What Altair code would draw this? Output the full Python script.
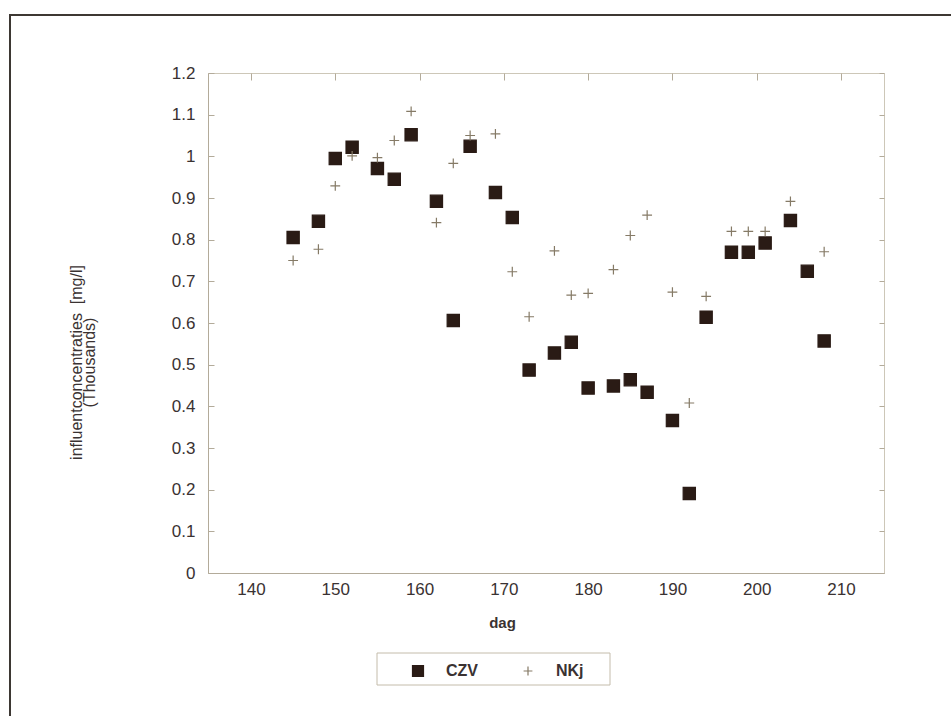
import altair as alt
import pandas as pd

# ---- data ----
czv_days = [145, 148, 150, 152, 155, 157, 159, 162, 164, 166, 169, 171, 173, 176,
            178, 180, 183, 185, 187, 190, 192, 194, 197, 199, 201, 204, 206, 208]
czv_vals = [0.805, 0.844, 0.995, 1.022, 0.971, 0.945, 1.052, 0.892, 0.606, 1.024,
            0.913, 0.853, 0.487, 0.528, 0.554, 0.444, 0.449, 0.464, 0.434, 0.366,
            0.191, 0.614, 0.770, 0.770, 0.792, 0.846, 0.724, 0.557]

nkj_days = [145, 148, 150, 152, 155, 157, 159, 162, 164, 166, 169, 171, 173, 176,
            178, 180, 183, 185, 187, 190, 192, 194, 197, 199, 201, 204, 208]
nkj_vals = [0.750, 0.777, 0.929, 1.001, 0.997, 1.038, 1.108, 0.841, 0.983, 1.050,
            1.054, 0.723, 0.615, 0.773, 0.667, 0.671, 0.728, 0.810, 0.859, 0.674,
            0.408, 0.664, 0.820, 0.820, 0.820, 0.892, 0.771]

series_names = ["CZV", "NKj"]
x_ticks = [140, 150, 160, 170, 180, 190, 200, 210]
y_ticks = [0, 0.1, 0.2, 0.3, 0.4, 0.5, 0.6, 0.7, 0.8, 0.9, 1.0, 1.1, 1.2]

df = pd.DataFrame({
    "dag": czv_days + nkj_days,
    "value": czv_vals + nkj_vals,
    "series": [series_names[0]] * len(czv_days) + [series_names[1]] * len(nkj_days),
})

W, H = 676, 500
PL, PT = 208, 73

axis_col = "#b3ab9a"
text_col = "#3a3232"
font = "Liberation Sans"

cross_path = "M-0.8,0L0.8,0M0,-0.8L0,0.8"

x_enc = alt.X(
    "dag:Q",
    scale=alt.Scale(domain=[134.9, 215.1], nice=False, zero=False),
    axis=alt.Axis(
        values=x_ticks, title="dag", titleX=294, titleY=49,
        titleBaseline="middle", titleFont=font, titleFontSize=15,
        titleFontWeight="bold", titleColor=text_col,
        labelPadding=8, tickSize=0, grid=True, gridColor=axis_col,
        gridDash=[7, 2000], gridWidth=1,
    ),
)

y_enc = alt.Y(
    "value:Q",
    scale=alt.Scale(domain=[0, 1.2], nice=False),
    axis=alt.Axis(
        values=y_ticks, format="~g",
        title=["influentconcentraties\u00a0\u00a0[mg/l]", "(Thousands)"],
        titleAngle=-90, titleX=-140, titleY=289, titleAlign="center",
        titleBaseline="top", titleLineHeight=13, titleFont=font,
        titleFontSize=16, titleFontWeight="normal", titleColor=text_col,
        labelPadding=13, tickSize=0, grid=True, gridColor=axis_col,
        gridDash=[6, 2000], gridWidth=1,
    ),
)

points = alt.Chart(df).mark_point(size=150, strokeWidth=1.2, opacity=1).encode(
    x=x_enc,
    y=y_enc,
    shape=alt.Shape("series:N", scale=alt.Scale(domain=series_names, range=["square", cross_path]),
                    legend=alt.Legend(title=None)),
    fill=alt.Fill("series:N", scale=alt.Scale(domain=series_names, range=["#2a1b15", "transparent"]),
                  legend=alt.Legend(title=None)),
    stroke=alt.Stroke("series:N", scale=alt.Scale(domain=series_names, range=["#2a1b15", "#857a66"]),
                      legend=alt.Legend(title=None)),
)

# mirrored inward ticks on the right side of the frame
right_ticks = alt.Chart(df).mark_point(opacity=0).encode(
    y=alt.Y("value:Q", scale=alt.Scale(domain=[0, 1.2], nice=False),
            axis=alt.Axis(orient="right", values=y_ticks, labels=False, title=None,
                          domain=False, ticks=False, grid=True, gridColor=axis_col,
                          gridDash=[5, 2000], gridWidth=1)),
)

deco_src = pd.DataFrame({"k": [0]})
legend_box = alt.Chart(deco_src).mark_rect(fill="transparent", stroke="#c4bcab", strokeWidth=1).encode(
    x=alt.value(169), x2=alt.value(402), y=alt.value(580), y2=alt.value(612)
)
outer_frame = alt.Chart(deco_src).mark_rect(fill="transparent", stroke="#3d3833", strokeWidth=2).encode(
    x=alt.value(-198), x2=alt.value(760), y=alt.value(-58), y2=alt.value(660)
)

chart = alt.layer(outer_frame, legend_box, right_ticks, points).resolve_axis(
    y="independent"
).properties(
    width=W, height=H,
    autosize=alt.AutoSizeParams(type="none"),
    padding={"left": PL, "top": PT, "right": 951 - PL - W, "bottom": 716 - PT - H},
    background="white",
).configure_view(
    stroke="#cdc7b8", strokeWidth=1
).configure_axis(
    domainColor=axis_col, domainWidth=1, labelColor=text_col,
    labelFont=font, labelFontSize=17,
).configure_legend(
    orient="none", legendX=202, legendY=590, direction="horizontal",
    padding=0, symbolSize=121, symbolStrokeWidth=1.2, labelFont=font,
    labelFontSize=16, labelFontWeight="bold", labelColor=text_col,
    labelOffset=20, columnPadding=42, strokeColor="transparent",
)

chart.save("out.html", embed_options={"renderer": "svg", "actions": False})
